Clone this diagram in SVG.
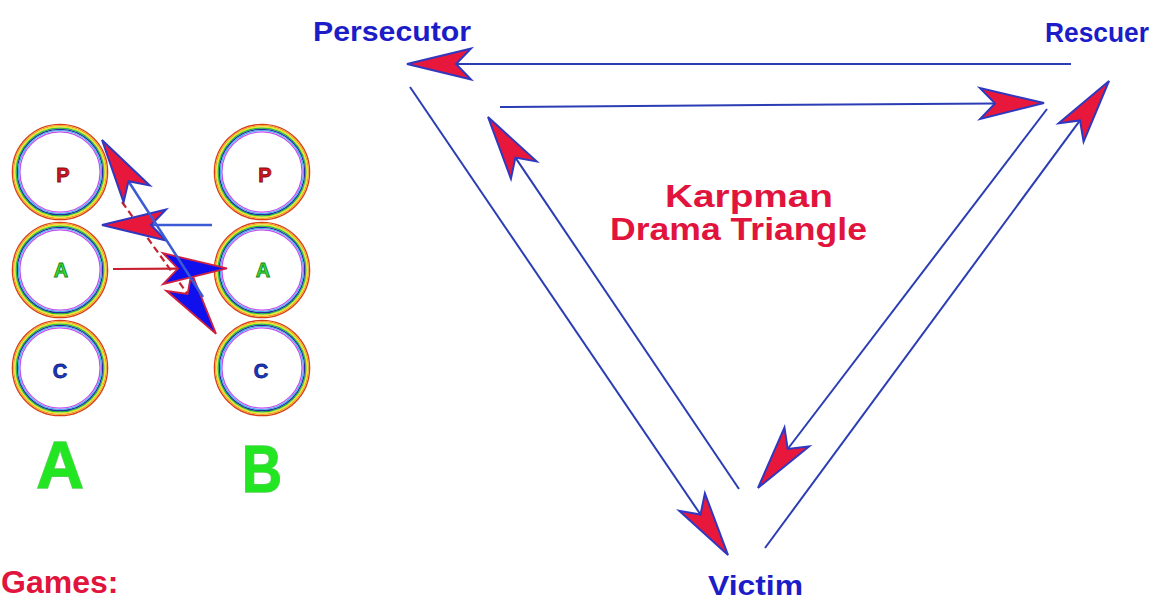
<svg xmlns="http://www.w3.org/2000/svg" xmlns:xlink="http://www.w3.org/1999/xlink" width="1155" height="601" viewBox="0 0 1155 601">
<style>
.lbl{font-family:"Liberation Sans",Arial,sans-serif;font-weight:bold;font-size:28px;fill:#1c1cc8}
.ttl{font-family:"Liberation Sans",Arial,sans-serif;font-weight:bold;font-size:31px;fill:#e0143c}
.ln{fill:none;stroke:#2b3db4;stroke-width:2}
.ln2{fill:none;stroke:#3b5bd6;stroke-width:2.5}
.lr{fill:none;stroke:#c8202e;stroke-width:2.2}
.ld{fill:none;stroke:#c8202e;stroke-width:2.2;stroke-dasharray:7 4}
.ego{font-family:"Liberation Sans",Arial,sans-serif;font-weight:900;font-size:20px;text-anchor:middle;stroke-width:0.8}
.big{font-family:"Liberation Sans",Arial,sans-serif;font-weight:bold;font-size:66px;text-anchor:middle;fill:#22e622;stroke:#5cd05c;stroke-width:1.5;paint-order:stroke}
</style>
<defs>
<marker id="hr" markerUnits="userSpaceOnUse" markerWidth="66" markerHeight="34" refX="15" refY="16" orient="auto" overflow="visible">
<path d="M64,16 L0,0.5 L15,16 L0,31.5 Z" fill="#e8183c" stroke="#3038c0" stroke-width="2"/>
</marker>
<marker id="hb" markerUnits="userSpaceOnUse" markerWidth="66" markerHeight="34" refX="15" refY="16" orient="auto" overflow="visible">
<path d="M64,16 L0,0.5 L15,16 L0,31.5 Z" fill="#1010ee" stroke="#d02040" stroke-width="1.8"/>
</marker>
<g id="ring">
<circle r="47.6" fill="#fff" stroke="#d8401a" stroke-width="1.4"/>
<circle r="46.3" fill="none" stroke="#f0a020" stroke-width="1.2"/>
<circle r="45.1" fill="none" stroke="#e8e820" stroke-width="1.3"/>
<circle r="43.9" fill="none" stroke="#30c030" stroke-width="1.2"/>
<circle r="42.7" fill="none" stroke="#2030a0" stroke-width="1.3"/>
<circle r="41.5" fill="none" stroke="#40a8f0" stroke-width="1.2"/>
<circle r="40.1" fill="none" stroke="#c050f0" stroke-width="1.3"/>
</g>
</defs>
<rect width="1155" height="601" fill="#fff"/>

<g id="persecutor"><text class="lbl" x="313" y="41" textLength="158" lengthAdjust="spacingAndGlyphs">Persecutor</text></g>
<g id="rescuer"><text class="lbl" x="1045" y="42" textLength="104" lengthAdjust="spacingAndGlyphs">Rescuer</text></g>
<g id="victim"><text class="lbl" x="708" y="595" textLength="95" lengthAdjust="spacingAndGlyphs">Victim</text></g>
<g id="title">
<text class="ttl" x="665" y="207" textLength="168" lengthAdjust="spacingAndGlyphs">Karpman</text>
<text class="ttl" x="610" y="240" textLength="257" lengthAdjust="spacingAndGlyphs">Drama Triangle</text>
</g>
<g id="games"><text class="ttl" x="1" y="593" style="font-size:32px">Games:</text></g>

<g id="nodeA-P"><use xlink:href="#ring" x="60" y="172"/><text class="ego" x="63" y="182" fill="#e01020" stroke="#801010">P</text></g>
<g id="nodeA-A"><use xlink:href="#ring" x="60" y="270"/><text class="ego" x="61" y="277" fill="#30e030" stroke="#208020">A</text></g>
<g id="nodeA-C"><use xlink:href="#ring" x="60" y="368"/><text class="ego" x="60" y="378" fill="#1838c0" stroke="#102080">C</text></g>
<g id="nodeB-P"><use xlink:href="#ring" x="262" y="172"/><text class="ego" x="265" y="182" fill="#e01020" stroke="#801010">P</text></g>
<g id="nodeB-A"><use xlink:href="#ring" x="262" y="270"/><text class="ego" x="263" y="277" fill="#30e030" stroke="#208020">A</text></g>
<g id="nodeB-C"><use xlink:href="#ring" x="262" y="368"/><text class="ego" x="261" y="378" fill="#1838c0" stroke="#102080">C</text></g>
<g id="labelA"><text class="big" x="60" y="488">A</text></g>
<g id="labelB"><text class="big" x="262" y="492" textLength="40" lengthAdjust="spacingAndGlyphs">B</text></g>

<g id="connectors">
<path class="ln" d="M1071,64 L456,64" marker-end="url(#hr)"/>
<path class="ln" d="M500,107 L995,103.4" marker-end="url(#hr)"/>
<path class="ln" d="M1047,109 L787.7,449" marker-end="url(#hr)"/>
<path class="ln" d="M765,548 L1080,120.4" marker-end="url(#hr)"/>
<path class="ln" d="M410,87 L700.5,514.5" marker-end="url(#hr)"/>
<path class="ln" d="M739,489 L515.4,157.6" marker-end="url(#hr)"/>
<path class="ld" d="M122,202 L187.6,294" marker-end="url(#hb)"/>
<path class="lr" d="M113,269 L178,268.6" marker-end="url(#hb)"/>
<path class="ln2" d="M212,225 L151,225" marker-end="url(#hr)"/>
<path class="ln2" d="M203,297 L128.5,181.2" marker-end="url(#hr)"/>
</g>
</svg>
